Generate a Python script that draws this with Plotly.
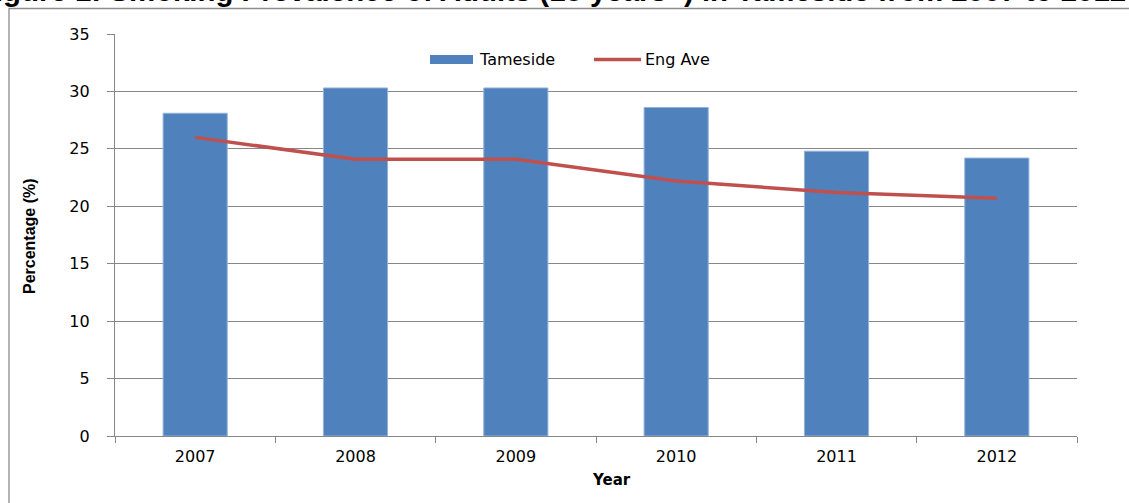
import plotly.graph_objects as go

years = ["2007", "2008", "2009", "2010", "2011", "2012"]
tameside = [28.1, 30.3, 30.3, 28.6, 24.8, 24.2]
eng_ave = [26.0, 24.1, 24.1, 22.2, 21.2, 20.7]
y_ticks = [0, 5, 10, 15, 20, 25, 30, 35]

title_text = "Figure 1: Smoking Prevalence of Adults (18 years+) in Tameside from 2007 to 2012"

BLUE = "#4F81BD"
RED = "#C0504D"
GRID = "#878787"

W, H = 1129, 503
L, R, T, B = 115, 52, 34, 67
PW, PH = W - L - R, H - T - B


def px(x):
    return (x - L) / PW


def py(y):
    return (H - B - y) / PH


fig = go.Figure()
fig.add_trace(go.Bar(
    x=years, y=tameside, name="Tameside", width=0.4,
    marker=dict(color=BLUE, line=dict(color="#93B3DB", width=1)),
    showlegend=False,
))
fig.add_trace(go.Scatter(
    x=years, y=eng_ave, name="Eng Ave", mode="lines",
    line=dict(color=RED, width=3.5),
    showlegend=False,
))

tick_font = dict(family="DejaVu Sans", size=16, color="#000000")

fig.update_layout(
    width=W, height=H,
    margin=dict(l=L, r=R, t=T, b=B, pad=0),
    paper_bgcolor="white", plot_bgcolor="white",
    showlegend=False,
    xaxis=dict(
        type="category", range=[-0.5, 5.5],
        showline=True, linecolor=GRID, linewidth=1.3,
        ticks="outside", tickson="boundaries", ticklen=6, tickcolor=GRID, tickwidth=1.3,
        showgrid=False, tickfont=tick_font, ticklabelstandoff=6,
    ),
    yaxis=dict(
        range=[0, 35], tickvals=y_ticks,
        showline=True, linecolor=GRID, linewidth=1.3,
        ticks="outside", ticklen=7, tickcolor=GRID, tickwidth=1.3,
        showgrid=True, gridcolor=GRID, gridwidth=1.3, zeroline=False,
        tickfont=tick_font, ticklabelstandoff=14,
    ),
)

annotations = [
    dict(text="<b>" + title_text + "</b>", xref="paper", yref="paper",
         x=px(1128), y=py(9.5), xanchor="right", yanchor="bottom", showarrow=False,
         font=dict(family="Liberation Sans", size=29.4, color="#000000")),
    dict(text="<b>Percentage (%)</b>", xref="paper", yref="paper",
         x=px(29), y=py(236), xanchor="center", yanchor="middle", textangle=-90, showarrow=False,
         font=dict(family="Liberation Sans Narrow, Liberation Sans", size=16, color="#000000")),
    dict(text="<b>Year</b>", xref="paper", yref="paper",
         x=px(611), y=py(480), xanchor="center", yanchor="middle", showarrow=False,
         font=dict(family="DejaVu Sans", size=15, color="#000000")),
    dict(text="Tameside", xref="paper", yref="paper",
         x=px(477), y=py(59.5), xanchor="left", yanchor="middle", showarrow=False,
         font=tick_font),
    dict(text="Eng Ave", xref="paper", yref="paper",
         x=px(643), y=py(59.5), xanchor="left", yanchor="middle", showarrow=False,
         font=tick_font),
]
fig.update_layout(annotations=annotations)

shapes = [
    dict(type="rect", xref="paper", yref="paper",
         x0=px(9), x1=px(1200), y0=py(560), y1=py(8.5),
         line=dict(color="#8C8C8C", width=1.3), fillcolor="rgba(0,0,0,0)", layer="below"),
    dict(type="rect", xref="paper", yref="paper",
         x0=px(430), x1=px(473), y0=py(64), y1=py(55),
         line=dict(width=0), fillcolor=BLUE),
    dict(type="line", xref="paper", yref="paper",
         x0=px(594), x1=px(641), y0=py(59.5), y1=py(59.5),
         line=dict(color=RED, width=3.5)),
]
fig.update_layout(shapes=shapes)

fig.write_html("out.html")
